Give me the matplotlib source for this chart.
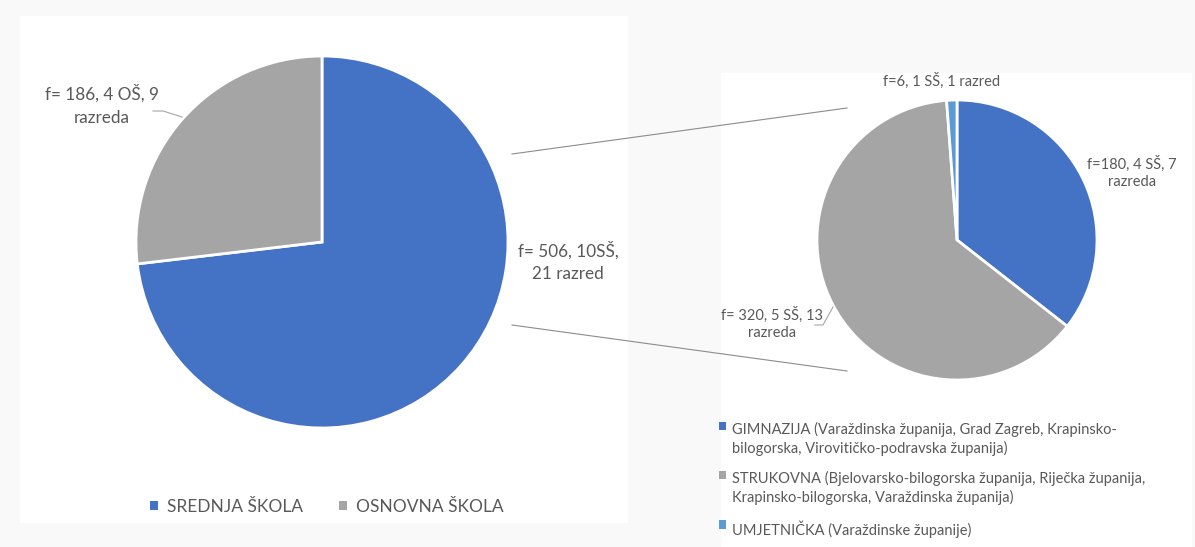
import matplotlib
matplotlib.use("Agg")
import matplotlib.pyplot as plt
from matplotlib.patches import Rectangle

# ---------------- data ----------------
main_categories = ["SREDNJA ŠKOLA", "OSNOVNA ŠKOLA"]
main_values = [506, 186]
main_labels = ["f= 506, 10SŠ,\n21 razred", "f= 186, 4 OŠ, 9\nrazreda"]

sub_categories = [
    "GIMNAZIJA (Varaždinska županija, Grad Zagreb, Krapinsko-\nbilogorska, Virovitičko-podravska županija)",
    "STRUKOVNA (Bjelovarsko-bilogorska županija, Riječka županija,\nKrapinsko-bilogorska, Varaždinska županija)",
    "UMJETNIČKA (Varaždinske županije)",
]
sub_values = [180, 320, 6]
sub_labels = ["f=180, 4 SŠ, 7\nrazreda", "f= 320, 5 SŠ, 13\nrazreda", "f=6, 1 SŠ, 1 razred"]

# ---------------- style ----------------
BLUE = "#4472C4"
GRAY = "#A5A5A5"
LBLUE = "#5B9BD5"
TXT = "#595959"
main_colors = [BLUE, GRAY]
sub_colors = [BLUE, GRAY, LBLUE]

plt.rcParams["font.family"] = ["Lato", "DejaVu Sans"]

W, H = 1195, 547
fig = plt.figure(figsize=(W / 100, H / 100), dpi=100, facecolor="#f9f9f9")
ax = fig.add_axes([0, 0, 1, 1])


def Y(y):
    return H - y


# panels
ax.add_patch(Rectangle((20, Y(523)), 608, 507, facecolor="white", edgecolor="none", zorder=0))
ax.add_patch(Rectangle((721, Y(547)), 471, 474, facecolor="white", edgecolor="none", zorder=0))

wprops = dict(edgecolor="white", linewidth=2)
w1, _ = ax.pie(main_values, colors=main_colors, startangle=90, counterclock=False,
               center=(322, Y(242)), radius=186, wedgeprops=wprops)
w2, _ = ax.pie(sub_values, colors=sub_colors, startangle=90, counterclock=False,
               center=(957, Y(240)), radius=140, wedgeprops=wprops)

ax.set_xlim(0, W)
ax.set_ylim(0, H)
ax.set_aspect("auto")
ax.axis("off")

# connector lines between pies
ax.plot([512, 847], [Y(154), Y(108)], color="#8c8c8c", lw=0.8, zorder=5)
ax.plot([512, 847], [Y(325), Y(371)], color="#8c8c8c", lw=0.8, zorder=5)

# data labels main pie
ax.text(568, Y(262), main_labels[0], ha="center", va="center", fontsize=12.3,
        color=TXT, linespacing=1.5)
ax.text(102, Y(105), main_labels[1], ha="center", va="center", fontsize=12.3,
        color=TXT, linespacing=1.55)
ax.plot([153, 163, 182], [Y(111), Y(111), Y(117)], color="#a6a6a6", lw=0.8)

# data labels sub pie
ax.text(1132, Y(172), sub_labels[0], ha="center", va="center", fontsize=10.5,
        color=TXT, linespacing=1.3)
ax.text(772, Y(323), sub_labels[1], ha="center", va="center", fontsize=10.5,
        color=TXT, linespacing=1.3)
ax.plot([815, 823, 833], [Y(325), Y(325), Y(307)], color="#a6a6a6", lw=0.8)
ax.text(942, Y(81), sub_labels[2], ha="center", va="center", fontsize=10.5, color=TXT)

# legends
leg1 = fig.legend(w1, main_categories, loc="center", bbox_to_anchor=(327 / W, 1 - 507 / H),
                  ncol=2, frameon=False, fontsize=12.5, handlelength=0.45, handleheight=0.45,
                  handletextpad=0.5, columnspacing=2.1, labelcolor=TXT)
for h in leg1.legend_handles:
    h.set_linewidth(0)

leg2 = fig.legend(w2, sub_categories, loc="upper left", bbox_to_anchor=(706 / W, 1 - 409 / H),
                  ncol=1, frameon=False, fontsize=10.5, handlelength=0.5, handleheight=0.5,
                  handletextpad=0.4, labelspacing=1.05, labelcolor=TXT)
for h in leg2.legend_handles:
    h.set_linewidth(0)
for t in leg2.get_texts():
    t.set_linespacing(1.3)
# keep the square markers aligned with the first line of each entry
for col in leg2._legend_handle_box.get_children():
    for item in col.get_children():
        item.align = "top"

fig.savefig("out.png", dpi=100, facecolor=fig.get_facecolor())
